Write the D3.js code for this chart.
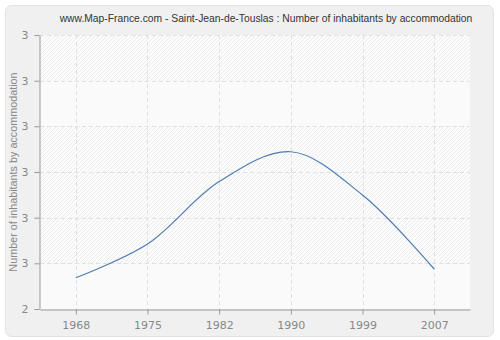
<!DOCTYPE html>
<html>
<head>
<meta charset="utf-8">
<script src="https://cdn.jsdelivr.net/npm/d3@7"></script>
<style>
  body { margin: 0; background: #fff; }
  svg { display: block; font-family: "DejaVu Sans", Verdana, sans-serif; }
</style>
</head>
<body>
<svg id="chart" width="500" height="340"></svg>
<script>
// data
const years = ["1968", "1975", "1982", "1990", "1999", "2007"];
const values = [2.114, 2.237, 2.465, 2.574, 2.416, 2.146];
const yTickValues = [2, 2.1667, 2.3333, 2.5, 2.6667, 2.8333, 3];
const yTickLabels = ["2", "3", "3", "3", "3", "3", "3"];
const plainBands = [0, 4];

const svg = d3.select("#chart");
const margin = { top: 35, right: 30, bottom: 31, left: 40 };
const width = 500 - margin.left - margin.right;
const height = 340 - margin.top - margin.bottom;

// outer panel
svg.append("rect")
    .attr("x", 0).attr("y", 0).attr("width", 500).attr("height", 340)
    .attr("fill", "#ffffff");
svg.append("rect")
    .attr("x", 5.5).attr("y", 5.5).attr("width", 488).attr("height", 331)
    .attr("rx", 6)
    .attr("fill", "#f0f0f0")
    .attr("stroke", "#e2e2e2");

//hatch pattern for the bands
const defs = svg.append("defs");
const pat = defs.append("pattern")
    .attr("id", "hatch")
    .attr("patternUnits", "userSpaceOnUse")
    .attr("width", 4).attr("height", 4);
pat.append("rect").attr("width", 4).attr("height", 4).attr("fill", "#fcfcfc");
pat.append("path")
    .attr("d", "M-1,1 l2,-2 M0,4 l4,-4 M3,5 l2,-2")
    .attr("stroke", "#ececec")
    .attr("stroke-width", 1);

const g = svg.append("g")
    .attr("transform", `translate(${margin.left},${margin.top})`);

const x = d3.scalePoint()
    .domain(years)
    .range([0, width])
    .padding(0.5);

const y = d3.scaleLinear()
    .domain([2, 3])
    .range([height, 0]);

// plot background bands
g.selectAll(".band")
    .data(d3.range(0, yTickValues.length - 1))
    .enter()
    .append("rect")
    .attr("class", "band")
    .attr("x", 0)
    .attr("width", width)
    .attr("y", i => y(yTickValues[i + 1]))
    .attr("height", i => y(yTickValues[i]) - y(yTickValues[i + 1]))
    .attr("fill", i => plainBands.includes(i) ? "#fafafa" : "url(#hatch)");

//grid lines
g.selectAll(".hgrid")
    .data(yTickValues.slice(1))
    .enter()
    .append("line")
    .attr("x1", 0).attr("x2", width)
    .attr("y1", d => Math.round(y(d)) + 0.5)
    .attr("y2", d => Math.round(y(d)) + 0.5)
    .attr("stroke", "#e0e0e0")
    .attr("stroke-dasharray", "4,3");

g.selectAll(".vgrid")
    .data(years)
    .enter()
    .append("line")
    .attr("x1", d => Math.round(x(d)) + 0.5)
    .attr("x2", d => Math.round(x(d)) + 0.5)
    .attr("y1", 0).attr("y2", height)
    .attr("stroke", "#e0e0e0")
    .attr("stroke-dasharray", "4,3");

//axes
const xAxis = g.append("g")
    .attr("transform", `translate(0,${height + 0.5})`)
    .call(d3.axisBottom(x).tickSize(5).tickSizeOuter(0).tickPadding(7));

const yAxis = g.append("g")
    .attr("transform", "translate(-0.5,0)")
    .call(d3.axisLeft(y)
        .tickValues(yTickValues)
        .tickFormat((d, i) => yTickLabels[i])
        .tickSize(5)
        .tickSizeOuter(0)
        .tickPadding(6));

[xAxis, yAxis].forEach(a => {
    a.select(".domain").attr("stroke", "#999");
    a.selectAll(".tick line").attr("stroke", "#999");
    a.selectAll(".tick text")
        .attr("fill", "#888")
        .style("font-size", "11px")
        .style("font-family", "DejaVu Sans, sans-serif");
});

//line
const line = d3.line()
    .x((d, i) => x(years[i]))
    .y(d => y(d))
    .curve(d3.curveCatmullRom.alpha(0.5));

g.append("path")
    .datum(values)
    .attr("fill", "none")
    .attr("stroke", "#4f7bb0")
    .attr("stroke-width", 1.2)
    .attr("d", line);

//title
svg.append("text")
    .attr("x", 266)
    .attr("y", 22)
    .attr("text-anchor", "middle")
    .attr("fill", "#333")
    .style("font-family", "'Liberation Sans', Arial, sans-serif")
    .style("font-size", "10.3px")
    .text("www.Map-France.com - Saint-Jean-de-Touslas : Number of inhabitants by accommodation");

//y axis label
svg.append("text")
    .attr("transform", "rotate(-90)")
    .attr("x", -(margin.top + height / 2))
    .attr("y", 17)
    .attr("text-anchor", "middle")
    .attr("fill", "#888")
    .style("font-family", "'Liberation Sans', Arial, sans-serif")
    .style("font-size", "10.8px")
    .text("Number of inhabitants by accommodation");
</script>
</body>
</html>
